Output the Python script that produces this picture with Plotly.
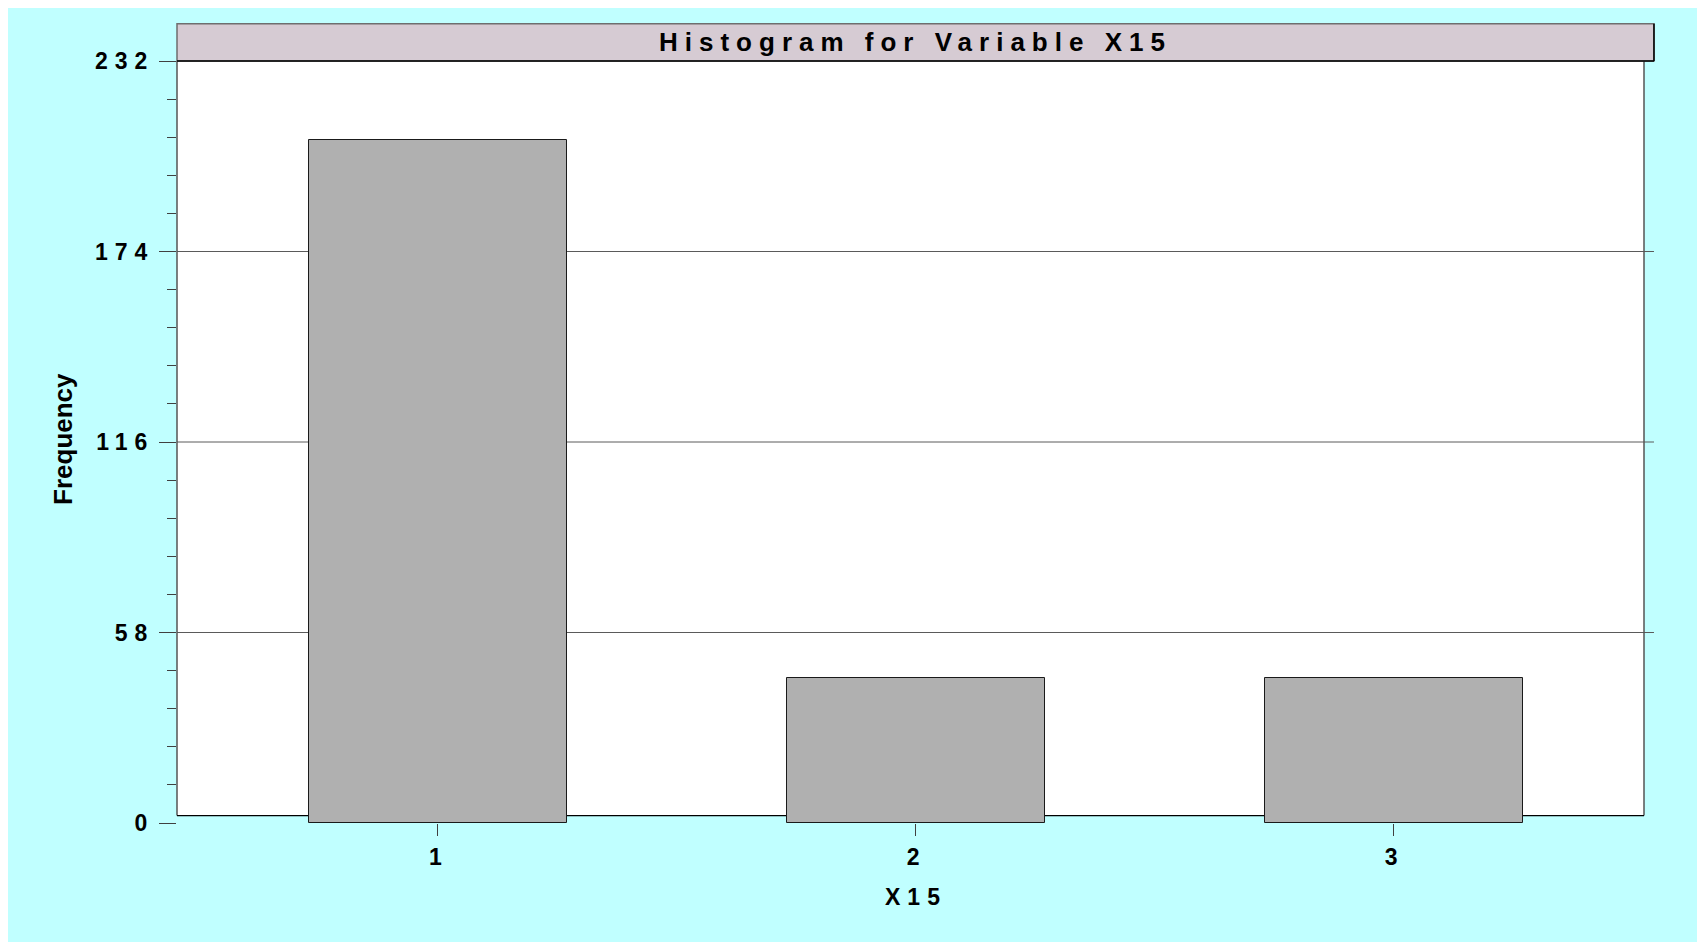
import plotly.graph_objects as go

# data
categories = [1, 2, 3]
frequencies = [208, 44, 44]
y_ticks = [0, 58, 116, 174, 232]
grid_values = [58, 116, 174]

FONT = "Liberation Sans, Arial"


def spaced(s, px):
    # the original renderer draws these labels with wide letter spacing
    return f'<span style="letter-spacing:{px}px">{s}</span>'


fig = go.Figure()

# white plotting box (stops a little above the zero line)
fig.add_shape(type="rect", xref="paper", yref="y domain",
              x0=0, x1=1, y0=0.0097, y1=1,
              fillcolor="white", line=dict(width=0), layer="below")
for g in grid_values:
    fig.add_shape(type="line", xref="paper", yref="y",
                  x0=0, x1=1.0068, y0=g, y1=g,
                  line=dict(color="#5a5a5a", width=1), layer="below")
fig.add_shape(type="line", xref="paper", yref="y domain", x0=0, x1=0, y0=0.0097, y1=1,
              line=dict(color="#555555", width=1.5), layer="below")
fig.add_shape(type="line", xref="paper", yref="y domain", x0=1, x1=1, y0=0.0097, y1=1,
              line=dict(color="#555555", width=1.5), layer="below")
fig.add_shape(type="line", xref="paper", yref="y domain", x0=0, x1=1, y0=0.0097, y1=0.0097,
              line=dict(color="black", width=1.2), layer="below")

# title bar
fig.add_shape(type="rect", xref="paper", yref="paper",
              x0=0, x1=1.0068, y0=1, y1=1.049,
              fillcolor="#D6CBD3", line=dict(color="#6e6e6e", width=1.5))
fig.add_shape(type="line", xref="paper", yref="paper", x0=0, x1=1.0068, y0=1, y1=1,
              line=dict(color="black", width=1.5))
fig.add_shape(type="line", xref="paper", yref="paper", x0=1.0068, x1=1.0068, y0=1, y1=1.049,
              line=dict(color="black", width=1.5))

fig.add_trace(go.Bar(
    x=categories, y=frequencies, width=0.54,
    marker=dict(color="#B0B0B0", line=dict(color="#1a1a1a", width=1)),
    showlegend=False
))

fig.add_annotation(text="<b>" + spaced("Histogram for Variable X15", 7) + "</b>",
                   xref="paper", yref="paper",
                   x=0.5034, y=1.0247, xanchor="center", yanchor="middle", showarrow=False,
                   font=dict(family=FONT, size=26, color="black"))
fig.add_annotation(text="<b>Frequency</b>", xref="paper", yref="paper",
                   x=-0.0777, y=0.504, xanchor="center", yanchor="middle", textangle=-90,
                   showarrow=False, font=dict(family=FONT, size=26, color="black"))
fig.add_annotation(text="<b>" + spaced("X15", 7) + "</b>", xref="paper", yref="paper",
                   x=0.504, y=-0.0976, xanchor="center", yanchor="middle", showarrow=False,
                   font=dict(family=FONT, size=23, color="black"))

fig.update_layout(
    width=1697, height=934,
    margin=dict(l=169, r=61, t=53, b=119),
    paper_bgcolor="#C0FFFF", plot_bgcolor="rgba(0,0,0,0)",
    bargap=0,
    xaxis=dict(range=[0.454, 3.524], tickvals=categories,
               ticktext=[spaced(c, 5) for c in categories],
               ticks="outside", ticklen=12,
               tickcolor="#404040", showgrid=False, zeroline=False, showline=False,
               ticklabelstandoff=1,
               tickfont=dict(family=FONT, size=23, color="black", weight="bold")),
    yaxis=dict(range=[0, 232], tickvals=y_ticks,
               ticktext=[spaced(v, 7) for v in y_ticks],
               ticks="outside", ticklen=17,
               tickcolor="#404040", showgrid=False, zeroline=False, showline=False,
               ticklabelstandoff=0,
               minor=dict(dtick=11.6, ticks="outside", ticklen=9, tickcolor="#404040"),
               tickfont=dict(family=FONT, size=23, color="black", weight="bold")),
)

fig.write_html("out.html")
